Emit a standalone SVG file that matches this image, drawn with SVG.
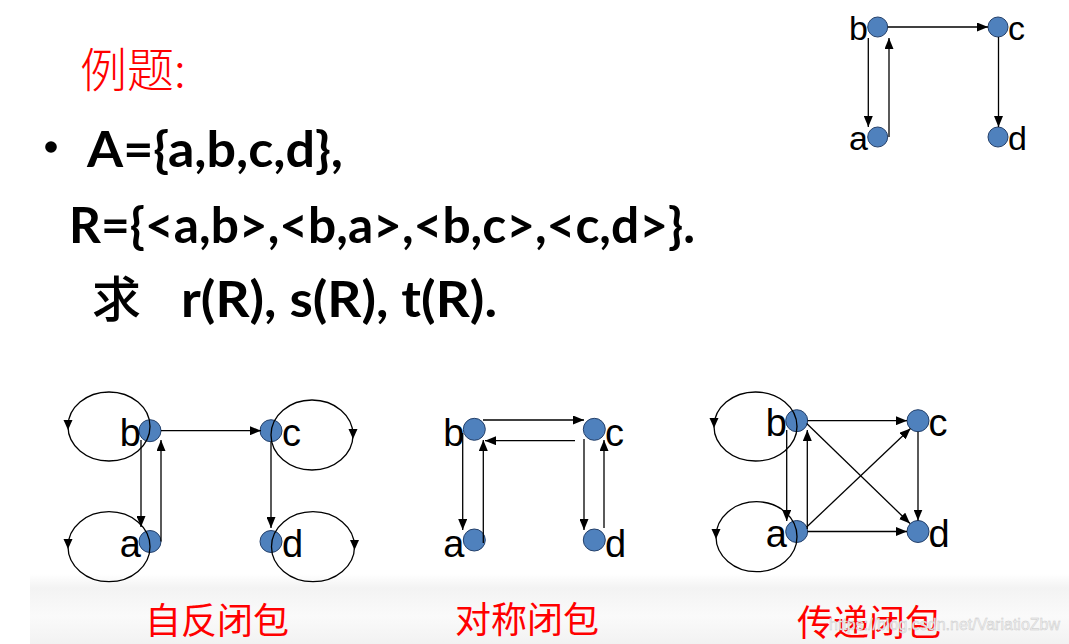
<svg xmlns="http://www.w3.org/2000/svg" xmlns:xlink="http://www.w3.org/1999/xlink" width="1069" height="644" viewBox="0 0 1069 644">
<style>
.node{fill:#4f81bd;stroke:#24406a;stroke-width:1}
.edge{stroke:#000;stroke-width:1.3;fill:none}
.loop{stroke:#000;stroke-width:1.3;fill:none}
.lbl{font-family:"Liberation Sans",Arial,sans-serif;font-size:38px;fill:#000}
.lblS{font-family:"Liberation Sans",Arial,sans-serif;font-size:34px;fill:#000}
.big{font-family:Lato,"Liberation Sans",sans-serif;font-weight:bold;font-size:49px;fill:#000}
.cjk{font-family:"Noto Sans CJK SC",sans-serif;fill:#000}
.red{font-family:"Noto Sans CJK SC",sans-serif;fill:#ff0000}
</style>
<defs>
<marker id="arr" markerUnits="userSpaceOnUse" markerWidth="11" markerHeight="9" refX="11" refY="4.5" orient="auto">
<path d="M0,0 L11,4.5 L0,9 z" fill="#000"/>
</marker>
<path id="la" d="M-4.5,-5 L4.5,-5 L0,5 z" fill="#000"/>
<linearGradient id="band" x1="0" y1="0" x2="0" y2="1">
<stop offset="0" stop-color="#ffffff"/>
<stop offset="0.2" stop-color="#f3f3f3"/>
<stop offset="0.6" stop-color="#fafafa"/>
<stop offset="1" stop-color="#f2f2f2"/>
</linearGradient>
</defs>
<rect x="0" y="0" width="1069" height="644" fill="#ffffff"/>
<rect x="30" y="574" width="1039" height="70" fill="url(#band)"/>

<g id="title">
<text class="red" x="80" y="87" font-size="47" font-weight="300">例题:</text>
</g>
<g id="problem">
<circle cx="51" cy="147" r="5.8" fill="#000"/>
<text class="big" x="87" y="167" textLength="256" lengthAdjust="spacingAndGlyphs">A={a,b,c,d},</text>
<text class="big" x="69" y="243" textLength="626" lengthAdjust="spacingAndGlyphs">R={&lt;a,b&gt;,&lt;b,a&gt;,&lt;b,c&gt;,&lt;c,d&gt;}.</text>
<text class="cjk" x="92" y="317" font-size="49" font-weight="500">求</text>
<text class="big" x="181" y="317" textLength="316" lengthAdjust="spacingAndGlyphs">r(R), s(R), t(R).</text>
</g>

<!-- Top-right graph R -->
<g id="R-b"><circle class="node" cx="877.7" cy="27" r="10"/><text class="lblS" x="868" y="40" text-anchor="end">b</text></g>
<g id="R-c"><circle class="node" cx="998" cy="27" r="10"/><text class="lblS" x="1008" y="40">c</text></g>
<g id="R-a"><circle class="node" cx="877.7" cy="137" r="10"/><text class="lblS" x="868" y="150" text-anchor="end">a</text></g>
<g id="R-d"><circle class="node" cx="998" cy="137" r="10"/><text class="lblS" x="1008" y="150">d</text></g>

<!-- Reflexive closure -->
<g id="r-b"><circle class="node" cx="150" cy="430.7" r="11"/><text class="lbl" x="141" y="446" text-anchor="end">b</text></g>
<g id="r-c"><circle class="node" cx="271" cy="430.7" r="11"/><text class="lbl" x="282" y="446">c</text></g>
<g id="r-a"><circle class="node" cx="150" cy="541.5" r="11"/><text class="lbl" x="141" y="557" text-anchor="end">a</text></g>
<g id="r-d"><circle class="node" cx="271" cy="541.5" r="11"/><text class="lbl" x="282" y="557">d</text></g>

<!-- Symmetric closure -->
<g id="s-b"><circle class="node" cx="474.3" cy="429.3" r="11"/><text class="lbl" x="464.5" y="446" text-anchor="end">b</text></g>
<g id="s-c"><circle class="node" cx="594.3" cy="429.3" r="11"/><text class="lbl" x="605" y="446">c</text></g>
<g id="s-a"><circle class="node" cx="474.3" cy="540" r="11"/><text class="lbl" x="464.5" y="556.5" text-anchor="end">a</text></g>
<g id="s-d"><circle class="node" cx="594.3" cy="540" r="11"/><text class="lbl" x="605" y="556.5">d</text></g>

<!-- Transitive closure -->
<g id="t-b"><circle class="node" cx="796.7" cy="420.7" r="11"/><text class="lbl" x="787" y="436" text-anchor="end">b</text></g>
<g id="t-c"><circle class="node" cx="918" cy="420.7" r="11"/><text class="lbl" x="928.5" y="436">c</text></g>
<g id="t-a"><circle class="node" cx="796.7" cy="531.5" r="11"/><text class="lbl" x="787" y="547" text-anchor="end">a</text></g>
<g id="t-d"><circle class="node" cx="918" cy="531.5" r="11"/><text class="lbl" x="928.5" y="547">d</text></g>

<g id="connectors">
<!-- R -->
<line class="edge" x1="868.3" y1="38" x2="868.3" y2="127" marker-end="url(#arr)"/>
<line class="edge" x1="889" y1="137" x2="889" y2="38" marker-end="url(#arr)"/>
<line class="edge" x1="887.7" y1="27" x2="988" y2="27" marker-end="url(#arr)"/>
<line class="edge" x1="998.5" y1="37" x2="998.5" y2="127" marker-end="url(#arr)"/>

<!-- reflexive -->
<line class="edge" x1="141" y1="440" x2="141" y2="527" marker-end="url(#arr)"/>
<line class="edge" x1="161" y1="541.5" x2="161" y2="440" marker-end="url(#arr)"/>
<line class="edge" x1="161" y1="430.7" x2="261" y2="430.7" marker-end="url(#arr)"/>
<line class="edge" x1="271" y1="441.7" x2="271" y2="528" marker-end="url(#arr)"/>
<ellipse class="loop" cx="109" cy="426.5" rx="41" ry="34.5"/>
<use xlink:href="#la" x="68" y="425"/>
<ellipse class="loop" cx="312" cy="435" rx="41" ry="35"/>
<use xlink:href="#la" x="353" y="434"/>
<ellipse class="loop" cx="109" cy="546.7" rx="41" ry="35"/>
<use xlink:href="#la" x="68" y="544"/>
<ellipse class="loop" cx="313" cy="546.7" rx="41.5" ry="35"/>
<use xlink:href="#la" x="354.5" y="545"/>

<!-- symmetric -->
<line class="edge" x1="483" y1="420" x2="584" y2="420" marker-end="url(#arr)"/>
<line class="edge" x1="575" y1="440.7" x2="485" y2="440.7" marker-end="url(#arr)"/>
<line class="edge" x1="462.7" y1="433" x2="462.7" y2="530" marker-end="url(#arr)"/>
<line class="edge" x1="483.3" y1="543" x2="483.3" y2="440" marker-end="url(#arr)"/>
<line class="edge" x1="584" y1="439" x2="584" y2="530" marker-end="url(#arr)"/>
<line class="edge" x1="604" y1="528" x2="604" y2="440" marker-end="url(#arr)"/>

<!-- transitive -->
<line class="edge" x1="786.7" y1="430" x2="786.7" y2="521" marker-end="url(#arr)"/>
<line class="edge" x1="807.3" y1="529" x2="807.3" y2="430" marker-end="url(#arr)"/>
<line class="edge" x1="807.5" y1="420.7" x2="907" y2="420.7" marker-end="url(#arr)"/>
<line class="edge" x1="807.5" y1="531.5" x2="907" y2="531.5" marker-end="url(#arr)"/>
<line class="edge" x1="918" y1="431.7" x2="918" y2="520.5" marker-end="url(#arr)"/>
<line class="edge" x1="806.7" y1="423.5" x2="910" y2="523.5" marker-end="url(#arr)"/>
<line class="edge" x1="806.7" y1="527" x2="910.5" y2="428.5" marker-end="url(#arr)"/>
<ellipse class="loop" cx="755.5" cy="426.5" rx="41.5" ry="34.5"/>
<use xlink:href="#la" x="714" y="423"/>
<ellipse class="loop" cx="756.5" cy="536.7" rx="40.5" ry="35"/>
<use xlink:href="#la" x="716" y="534"/>
</g>

<g id="captions">
<text class="red" x="145" y="634" font-size="36">自反闭包</text>
<text class="red" x="455" y="633" font-size="36">对称闭包</text>
<text class="red" x="797" y="636" font-size="36">传递闭包</text>
</g>
<text x="1060" y="630" text-anchor="end" font-family="Liberation Sans,Arial,sans-serif" font-size="16" fill="#efefef" stroke="#c8c8c8" stroke-width="0.4">https://blog.csdn.net/VariatioZbw</text>
</svg>
